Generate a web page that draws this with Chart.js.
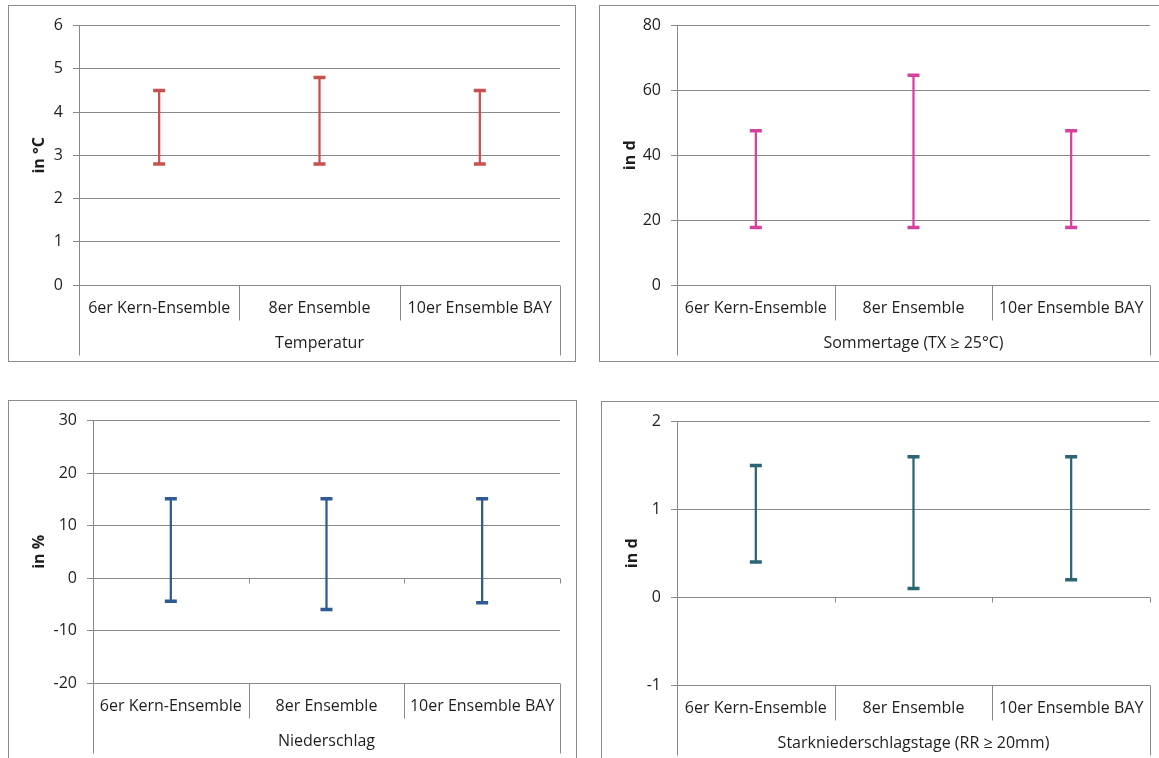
<!DOCTYPE html>
<html>
<head>
<meta charset="utf-8">
<script src="https://cdn.jsdelivr.net/npm/chart.js@4/dist/chart.umd.min.js"></script>
<style>
  html, body { margin: 0; padding: 0; background: #fff; width: 1159px; height: 758px; overflow: hidden; }
  .panel { position: absolute; box-sizing: border-box; border: 1px solid #8c8c8c; background: #fff; }
  .panel canvas { display: block; }
</style>
</head>
<body>
<div class="panel" id="p1" style="left:8px;top:5px;width:568px;height:357px;"><canvas id="c1" width="566" height="355"></canvas></div>
<div class="panel" id="p2" style="left:599px;top:5px;width:568px;height:357px;"><canvas id="c2" width="566" height="355"></canvas></div>
<div class="panel" id="p3" style="left:8px;top:400px;width:569px;height:370px;"><canvas id="c3" width="567" height="368"></canvas></div>
<div class="panel" id="p4" style="left:601px;top:401px;width:568px;height:370px;"><canvas id="c4" width="566" height="368"></canvas></div>
<script>
// ---- Data ----
const categories = ['6er Kern-Ensemble', '8er Ensemble', '10er Ensemble BAY'];

const tempLow  = [2.8, 2.8, 2.8];
const tempHigh = [4.5, 4.8, 4.5];
const tempTicks = [0, 1, 2, 3, 4, 5, 6];

const summerLow  = [17.7, 17.7, 17.7];
const summerHigh = [47.6, 64.7, 47.6];
const summerTicks = [0, 20, 40, 60, 80];

const precipLow  = [-4.4, -6.0, -4.7];
const precipHigh = [15.1, 15.1, 15.1];
const precipTicks = [-20, -10, 0, 10, 20, 30];

const heavyLow  = [0.4, 0.1, 0.2];
const heavyHigh = [1.5, 1.6, 1.6];
const heavyTicks = [-1, 0, 1, 2];

const groupTitles = ['Temperatur', 'Sommertage (TX \u2265 25\u00B0C)', 'Niederschlag', 'Starkniederschlagstage (RR \u2265 20mm)'];
const yTitles = ['in \u00B0C', 'in d', 'in %', 'in d'];

// ---- Rendering ----
const FONT = '"Open Sans", Lato, sans-serif';
const FS = 16;
const GRID = '#888888';
const TEXT = '#1e1e1e';

const axisDecor = {
  id: 'axisDecor',
  afterDraw(chart) {
    const ctx = chart.ctx;
    const xs = chart.scales.x, ys = chart.scales.y;
    const ca = chart.chartArea;
    const n = categories.length;
    ctx.save();
    ctx.strokeStyle = GRID;
    ctx.lineWidth = 1;
    const bottom = Math.round(ca.bottom) + 0.5;
    for (let i = 0; i <= n; i++) {
      const x = Math.round(xs.getPixelForValue(i - 0.5)) + 0.5;
      const len = (i === 0 || i === n) ? 70 : 35;
      ctx.beginPath();
      ctx.moveTo(x, bottom);
      ctx.lineTo(x, bottom + len);
      ctx.stroke();
    }
    const y0 = ys.getPixelForValue(0);
    if (y0 < ca.bottom - 2) {
      const yy = Math.round(y0) + 0.5;
      for (let i = 1; i <= n; i++) {
        const x = Math.round(xs.getPixelForValue(i - 0.5)) + 0.5;
        ctx.beginPath();
        ctx.moveTo(x, yy);
        ctx.lineTo(x, yy + 5);
        ctx.stroke();
      }
    }
    ctx.restore();
  }
};

function makeChart(id, low, high, ticks, color, yTitle, groupTitle, geo) {
  const ranges = low.map((l, i) => [l, high[i]]);
  new Chart(document.getElementById(id), {
    type: 'bar',
    data: {
      labels: categories,
      datasets: [
        { type: 'bar', data: ranges, backgroundColor: color, borderWidth: 0, barThickness: 1.6, grouped: false, order: 2 },
        { type: 'line', data: high, showLine: false, pointStyle: 'line', pointRadius: 6, pointBorderWidth: 3.5, pointBorderColor: color, pointBackgroundColor: color, order: 1 },
        { type: 'line', data: low, showLine: false, pointStyle: 'line', pointRadius: 6, pointBorderWidth: 3.5, pointBorderColor: color, pointBackgroundColor: color, order: 1 }
      ]
    },
    options: {
      responsive: false,
      animation: false,
      events: [],
      layout: { padding: { top: geo.top, right: geo.right, bottom: geo.bottom, left: 0 } },
      plugins: { legend: { display: false }, tooltip: { enabled: false } },
      scales: {
        x: {
          type: 'category',
          offset: true,
          grid: { display: false, drawTicks: false },
          border: { display: false },
          ticks: { color: TEXT, font: { family: FONT, size: FS }, padding: 14, maxRotation: 0, autoSkip: false },
          title: { display: true, text: groupTitle, color: TEXT, font: { family: FONT, size: FS }, padding: { top: 0, bottom: 8 } },
          afterFit: (s) => { s.height = 76; }
        },
        y: {
          min: ticks[0],
          max: ticks[ticks.length - 1],
          grid: { color: GRID, lineWidth: 1, drawTicks: true, tickLength: 6, tickColor: GRID },
          border: { display: true, color: GRID, width: 1 },
          ticks: { stepSize: ticks[1] - ticks[0], color: TEXT, font: { family: FONT, size: FS }, padding: 10 },
          title: { display: true, text: yTitle, color: TEXT, font: { family: FONT, size: FS, weight: 'bold' }, padding: { top: 21, bottom: 0 } },
          afterFit: (s) => { s.width = geo.yWidth; }
        }
      }
    },
    plugins: [axisDecor]
  });
}

makeChart('c1', tempLow, tempHigh, tempTicks, '#C8504E', yTitles[0], groupTitles[0], { top: 18, right: 15, bottom: 0, yWidth: 70 });
makeChart('c2', summerLow, summerHigh, summerTicks, '#D6409F', yTitles[1], groupTitles[1], { top: 16, right: 16, bottom: 0, yWidth: 77 });
makeChart('c3', precipLow, precipHigh, precipTicks, '#2F5B94', yTitles[2], groupTitles[2], { top: 18, right: 16, bottom: 10, yWidth: 84 });
makeChart('c4', heavyLow, heavyHigh, heavyTicks, '#2B6475', yTitles[3], groupTitles[3], { top: 18, right: 18, bottom: 9, yWidth: 75 });
</script>
</body>
</html>
